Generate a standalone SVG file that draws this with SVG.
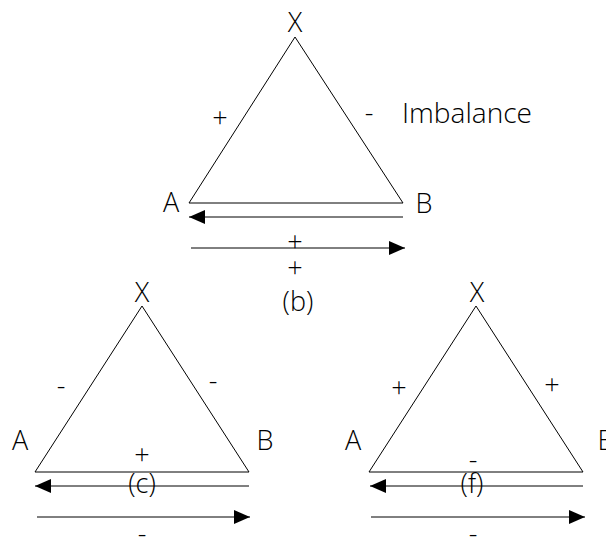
<svg xmlns="http://www.w3.org/2000/svg" width="606" height="539" viewBox="0 0 606 539">
<style>
text{font-family:"Open Sans","Liberation Sans",sans-serif;font-size:27px;font-weight:300;fill:#000;text-anchor:middle}
.tri{fill:none;stroke:#000;stroke-width:1}
.arr{stroke:#000;stroke-width:1;fill:none;marker-end:url(#ah)}
</style>
<defs>
<marker id="ah" markerUnits="userSpaceOnUse" markerWidth="16" markerHeight="14" refX="16" refY="7" orient="auto">
<path d="M0,0 L16,7 L0,14 z" fill="#000"/>
</marker>
</defs>
<rect width="606" height="539" fill="#fff"/>
<g id="panel-b">
<polygon class="tri" points="295,37 189,203 403,203"/>
<text x="295" y="32">X</text>
<text x="171" y="212">A</text>
<text x="424" y="213">B</text>
<text x="220" y="127">+</text>
<text x="369" y="122">-</text>
<text x="402" y="123" style="text-anchor:start" textLength="130" lengthAdjust="spacingAndGlyphs">Imbalance</text>
<text x="295" y="251">+</text>
<text x="295" y="277">+</text>
<text x="298" y="311">(b)</text>
</g>
<g id="panel-c">
<polygon class="tri" points="142,306 35,472 249,472"/>
<text x="142" y="302">X</text>
<text x="20" y="450">A</text>
<text x="265" y="450">B</text>
<text x="61" y="395">-</text>
<text x="213" y="390">-</text>
<text x="142" y="464">+</text>
<text x="142" y="493">(c)</text>
<text x="142" y="543">-</text>
</g>
<g id="panel-f">
<polygon class="tri" points="476,306 369,472 583,472"/>
<text x="477" y="302">X</text>
<text x="353" y="450">A</text>
<text x="606" y="450">B</text>
<text x="399" y="397">+</text>
<text x="552" y="394">+</text>
<text x="473" y="469">-</text>
<text x="472" y="493">(f)</text>
<text x="473" y="543">-</text>
</g>
<g id="connectors">
<line class="arr" x1="403" y1="217" x2="189" y2="217"/>
<line class="arr" x1="191" y1="248" x2="405" y2="248"/>
<line class="arr" x1="249" y1="486" x2="35" y2="486"/>
<line class="arr" x1="37" y1="517" x2="250" y2="517"/>
<line class="arr" x1="583" y1="486" x2="370" y2="486"/>
<line class="arr" x1="371" y1="517" x2="585" y2="517"/>
</g>
</svg>
